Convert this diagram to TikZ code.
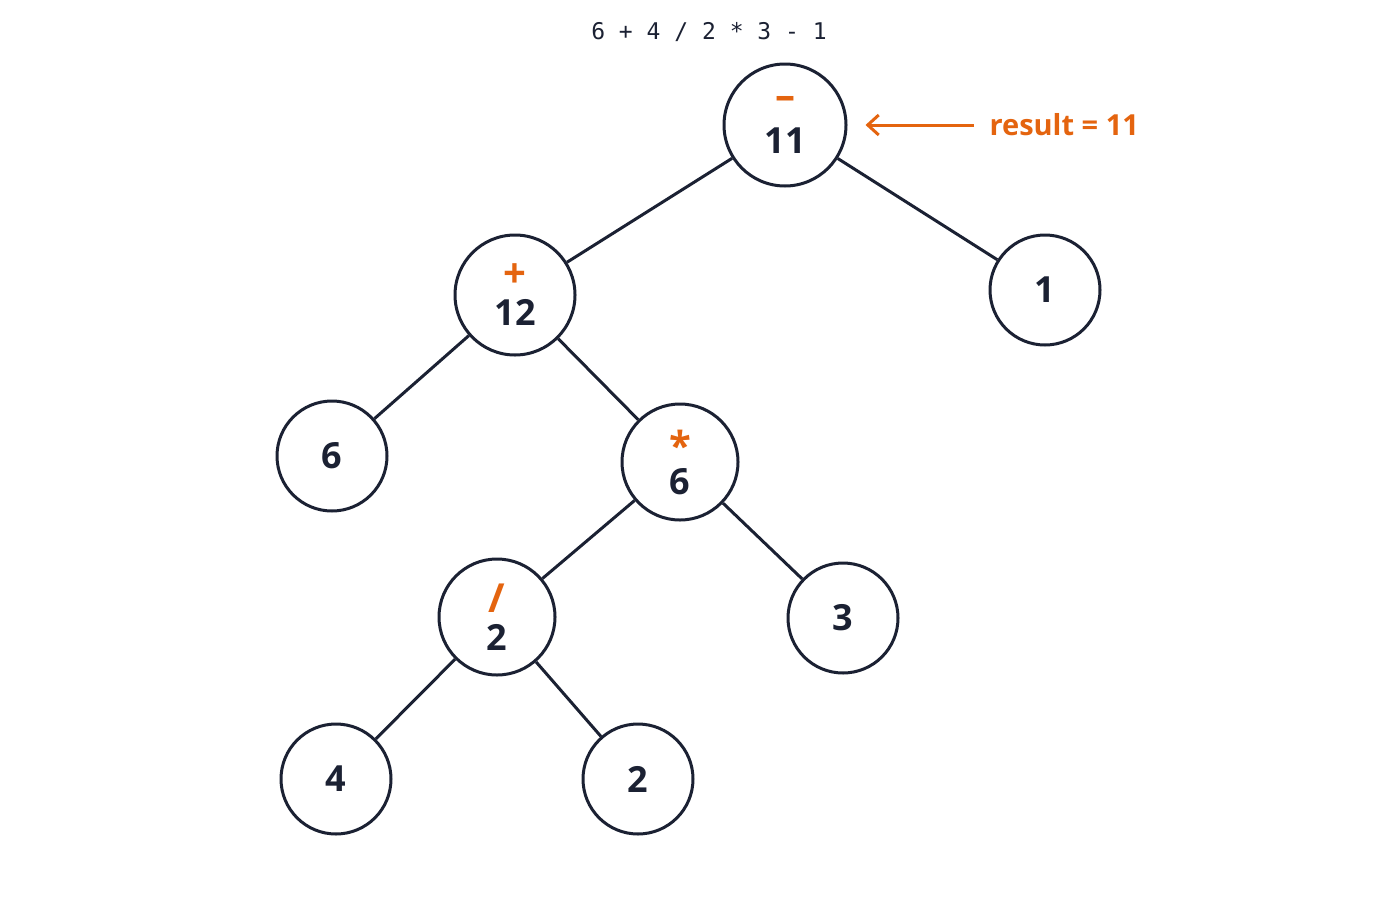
\documentclass[tikz,border=0pt]{standalone}
\usepackage{fontspec}
\setmainfont{Open Sans}
\setmonofont{DejaVu Sans Mono}
\usetikzlibrary{arrows.meta}
\definecolor{ink}{HTML}{1B2133}
\definecolor{org}{HTML}{E4640F}
\newcommand{\opr}[1]{\textcolor{org}{\fontsize{40}{40}\selectfont #1}}
\begin{document}
\begin{tikzpicture}[x=1pt,y=-1pt,
  nd/.style={circle,draw=ink,line width=3pt,fill=white,text=ink,font=\fontsize{36}{36}\selectfont\bfseries,align=center,inner sep=0pt,minimum size=#1},
  ed/.style={draw=ink,line width=3pt}]
\useasboundingbox (0,0) rectangle (1400,900);
\node[font=\ttfamily\fontsize{23}{23}\selectfont,text=ink] (title) at (709,32) {6 + 4 / 2 * 3 - 1};
\node[nd=122pt] (root) at (785,125) {\opr{\raisebox{6pt}{--}}\\[2pt]11};
\node[nd=120pt] (plus) at (515,295) {\opr{+}\\[2pt]12};
\node[nd=110pt] (one) at (1045,290) {1};
\node[nd=110pt] (six) at (332,456) {6};
\node[nd=116pt] (mult) at (680,462) {\opr{*}\\[-2pt]6};
\node[nd=116pt] (div) at (497,617) {\opr{/}\\[2pt]2};
\node[nd=110pt] (three) at (843,618) {3};
\node[nd=110pt] (four) at (336,779) {4};
\node[nd=110pt] (two) at (638,779) {2};
\draw[ed] (root) -- (plus);
\draw[ed] (root) -- (one);
\draw[ed] (plus) -- (six);
\draw[ed] (plus) -- (mult);
\draw[ed] (mult) -- (div);
\draw[ed] (mult) -- (three);
\draw[ed] (div) -- (four);
\draw[ed] (div) -- (two);
\node[anchor=west,text=org,font=\fontsize{29}{29}\selectfont\bfseries] (res) at (986,125) {result = 11};
\draw[org,line width=3pt,-{Straight Barb[length=11pt,width=20pt]},shorten <=12pt,shorten >=18pt] (res.west) -- (root);
\end{tikzpicture}
\end{document}
